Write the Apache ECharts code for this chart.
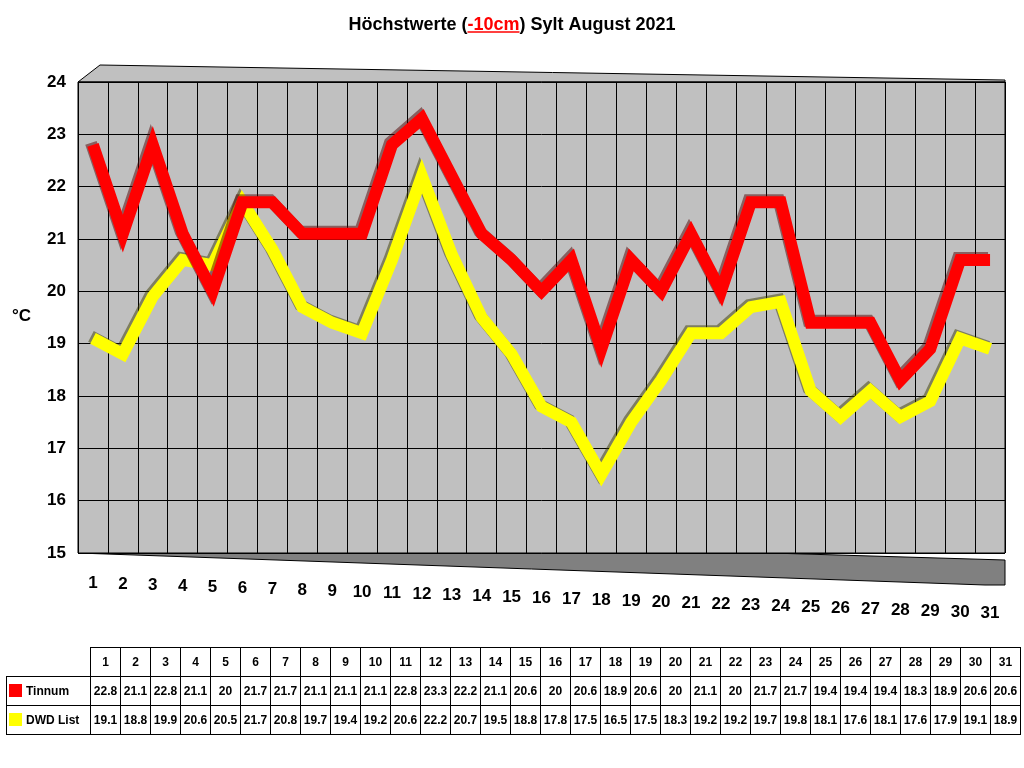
<!DOCTYPE html>
<html>
<head>
<meta charset="utf-8">
<script src="https://cdn.jsdelivr.net/npm/echarts@6/dist/echarts.min.js"></script>
<style>
  body { margin: 0; background: #fff; }
  #main { width: 1024px; height: 768px; }
  #tbl { position: absolute; left: 6px; top: 647px; border-collapse: collapse;
         font: bold 12px 'Liberation Sans', Arial, sans-serif; }
  #tbl td { border: 1px solid #000; height: 28px; width: 29px; text-align: center; padding: 0; }
  #tbl td.lab { width: 81px; text-align: left; white-space: nowrap; padding-left: 2px; }
  #tbl td.blank { border: none; }
  .sq { display: inline-block; width: 13px; height: 13px; vertical-align: -2px; margin-right: 4px; }
</style>
</head>
<body>
<div id="main"></div>
<table id="tbl"></table>
<script>
// Tage im August
const days = [];
for (let d = 1; d <= 31; d++) days.push(String(d));

const tinnum = [22.8, 21.1, 22.8, 21.1, 20, 21.7, 21.7, 21.1, 21.1, 21.1, 22.8, 23.3, 22.2, 21.1, 20.6, 20,
  20.6, 18.9, 20.6, 20, 21.1, 20, 21.7, 21.7, 19.4, 19.4, 19.4, 18.3, 18.9, 20.6, 20.6];
const dwdList = [19.1, 18.8, 19.9, 20.6, 20.5, 21.7, 20.8, 19.7, 19.4, 19.2, 20.6, 22.2, 20.7, 19.5, 18.8, 17.8,
  17.5, 16.5, 17.5, 18.3, 19.2, 19.2, 19.7, 19.8, 18.1, 17.6, 18.1, 17.6, 17.9, 19.1, 18.9];

const seriesNames = ['Tinnum', 'DWD List'];
const seriesColors = ['#ff0000', '#ffff00'];

const FONT = "'Liberation Sans', Arial, sans-serif";
const TITLE_SIZE = 18;
const TITLE_TOP = 11;

// Datentabelle unter dem Diagramm
const tbl = document.getElementById('tbl');
let html = '<tr><td class="blank"></td>' + days.map(d => '<td>' + d + '</td>').join('') + '</tr>';
[tinnum, dwdList].forEach((arr, i) => {
  html += '<tr><td class="lab"><span class="sq" style="background:' + seriesColors[i] + '"></span>' +
    seriesNames[i] + '</td>' + arr.map(v => '<td>' + v + '</td>').join('') + '</tr>';
});
tbl.innerHTML = html;

// Unterstreichung für "-10cm" ausmessen
const ctx = document.createElement('canvas').getContext('2d');
ctx.font = 'bold ' + TITLE_SIZE + 'px ' + FONT;
const wAll = ctx.measureText('Höchstwerte (-10cm) Sylt August 2021').width;
const wPre = ctx.measureText('Höchstwerte (').width;
const wRed = ctx.measureText('-10cm').width;
const ulX1 = 512 - wAll / 2 + wPre;
const ulX2 = ulX1 + wRed;
const ulY = TITLE_TOP + TITLE_SIZE + 3;

// x-Beschriftungen leicht schräg nach unten (wie Excel 3D)
const rich = {};
days.forEach((d, i) => {
  rich['l' + i] = { fontSize: 17, fontWeight: 'bold', fontFamily: FONT, color: '#000',
    padding: [Math.round(i * 1.0), 0, 0, 0] };
});

const chart = echarts.init(document.getElementById('main'));

const option = {
  animation: false,
  title: {
    text: '{a|Höchstwerte (}{r|-10cm}{a|) Sylt August 2021}',
    left: 'center',
    top: TITLE_TOP,
    textStyle: {
      rich: {
        a: { fontSize: TITLE_SIZE, fontWeight: 'bold', fontFamily: FONT, color: '#000' },
        r: { fontSize: TITLE_SIZE, fontWeight: 'bold', fontFamily: FONT, color: '#ff0000' }
      }
    }
  },
  grid: { left: 78, right: 19, top: 82, bottom: 215, show: true,
    backgroundColor: '#c0c0c0', borderColor: '#000', borderWidth: 1 },
  graphic: [
    // Boden
    { type: 'polygon', z: -1, shape: { points: [[78, 553], [100, 533], [1005, 560], [1005, 585], [985, 585]] },
      style: { fill: '#808080', stroke: '#000', lineWidth: 1 } },
    // Wand oben
    { type: 'polygon', z: -1, shape: { points: [[78, 82], [100, 65], [1005, 80], [1005, 82]] },
      style: { fill: '#c0c0c0', stroke: '#000', lineWidth: 1 } },
    // Unterstreichung "-10cm"
    { type: 'line', shape: { x1: ulX1, y1: ulY, x2: ulX2, y2: ulY }, style: { stroke: '#ff0000', lineWidth: 1.5 } },
    { type: 'text', left: 12, top: 308, style: { text: '°C', fontSize: 17, fontWeight: 'bold', fontFamily: FONT, fill: '#000' } }
  ],
  xAxis: {
    type: 'category',
    data: days,
    boundaryGap: true,
    axisLine: { show: false },
    axisTick: { show: false },
    axisLabel: {
      interval: 0,
      margin: 22,
      formatter: function (v, i) { return '{l' + i + '|' + v + '}'; },
      rich: rich
    },
    splitLine: { show: true, interval: 0, lineStyle: { color: '#000', width: 1 } }
  },
  yAxis: {
    type: 'value',
    min: 15,
    max: 24,
    interval: 1,
    axisLine: { show: false },
    axisTick: { show: false },
    axisLabel: { fontSize: 17, fontWeight: 'bold', fontFamily: FONT, color: '#000', margin: 12 },
    splitLine: { show: true, lineStyle: { color: '#000', width: 1 } }
  },
  series: [
    {
      name: seriesNames[1],
      type: 'line',
      data: dwdList,
      showSymbol: false,
      z: 3,
      lineStyle: { color: seriesColors[1], width: 12, join: 'miter',
        shadowColor: 'rgba(60,60,0,0.5)', shadowOffsetX: -2, shadowOffsetY: -2, shadowBlur: 0 }
    },
    {
      name: seriesNames[0],
      type: 'line',
      data: tinnum,
      showSymbol: false,
      z: 4,
      lineStyle: { color: seriesColors[0], width: 12, join: 'miter',
        shadowColor: 'rgba(80,0,0,0.5)', shadowOffsetX: -2, shadowOffsetY: -2, shadowBlur: 0 }
    }
  ]
};

chart.setOption(option);
</script>
</body>
</html>
